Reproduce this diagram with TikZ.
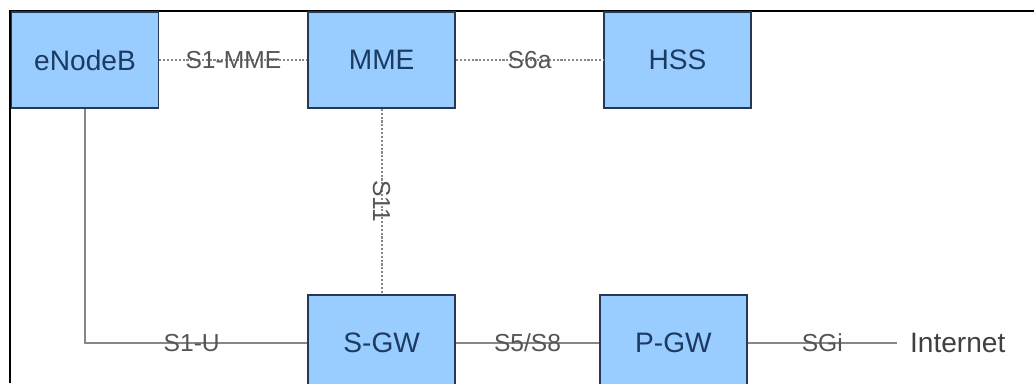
\documentclass[tikz,border=0pt]{standalone}
\usepackage{fontspec}
\setmainfont{Liberation Sans}
\usepackage{xcolor}
\usepackage{tikz}
\usetikzlibrary{positioning}
\definecolor{boxfill}{RGB}{153,204,255}
\definecolor{boxline}{RGB}{38,56,82}
\definecolor{boxtext}{RGB}{28,58,98}
\definecolor{linkgray}{RGB}{135,135,135}
\definecolor{lblgray}{RGB}{85,85,85}

\begin{document}
\begin{tikzpicture}[x=0.02cm, y=-0.02cm,
  box/.style={rectangle, draw=boxline, fill=boxfill, line width=1pt,
              minimum width=2.94cm, minimum height=1.92cm, text=boxtext,
              font=\fontsize{16}{19}\selectfont},
  lnk/.style={draw=linkgray, line width=1.2pt, #1},
  lbl/.style={text=lblgray, font=\fontsize{14}{17}\selectfont, inner sep=0pt, #1}
]
  % Page and frame
  \useasboundingbox (0,0) rectangle (1034,383);
  \clip (0,0) rectangle (1034,383);
  \fill[white] (0,0) rectangle (1034,383);
  \draw[line width=1.2pt] (10,383) -- (10,11) -- (1034,11);

  % Top row
  \node[box] (enb) at (85,60) {eNodeB};
  \node[box, right=2.96cm of enb] (mme) {MME};
  \node[box, right=2.94cm of mme] (hss) {HSS};

  % Bottom row
  \node[box, below=3.7cm of mme] (sgw) {S-GW};
  \node[box, right=2.86cm of sgw] (pgw) {P-GW};
  \node[right=2.98cm of pgw, inner sep=0.26cm, text=black!75,
        font=\fontsize{16}{19}\selectfont] (inet) {Internet};

  % Control plane links
  \draw[lnk=densely dotted] (enb) -- node[lbl] {S1-MME} (mme);
  \draw[lnk=densely dotted] (mme) -- node[lbl] {S6a} (hss);
  \draw[lnk=densely dotted] (mme) -- node[lbl, rotate=-90] {S11} (sgw);

  % User plane links
  \draw[lnk] (enb.south) |- node[lbl, pos=0.74] {S1-U} (sgw.west);
  \draw[lnk] (sgw) -- node[lbl] {S5/S8} (pgw);
  \draw[lnk] (pgw) -- node[lbl] {SGi} (inet);

\end{tikzpicture}
\end{document}
